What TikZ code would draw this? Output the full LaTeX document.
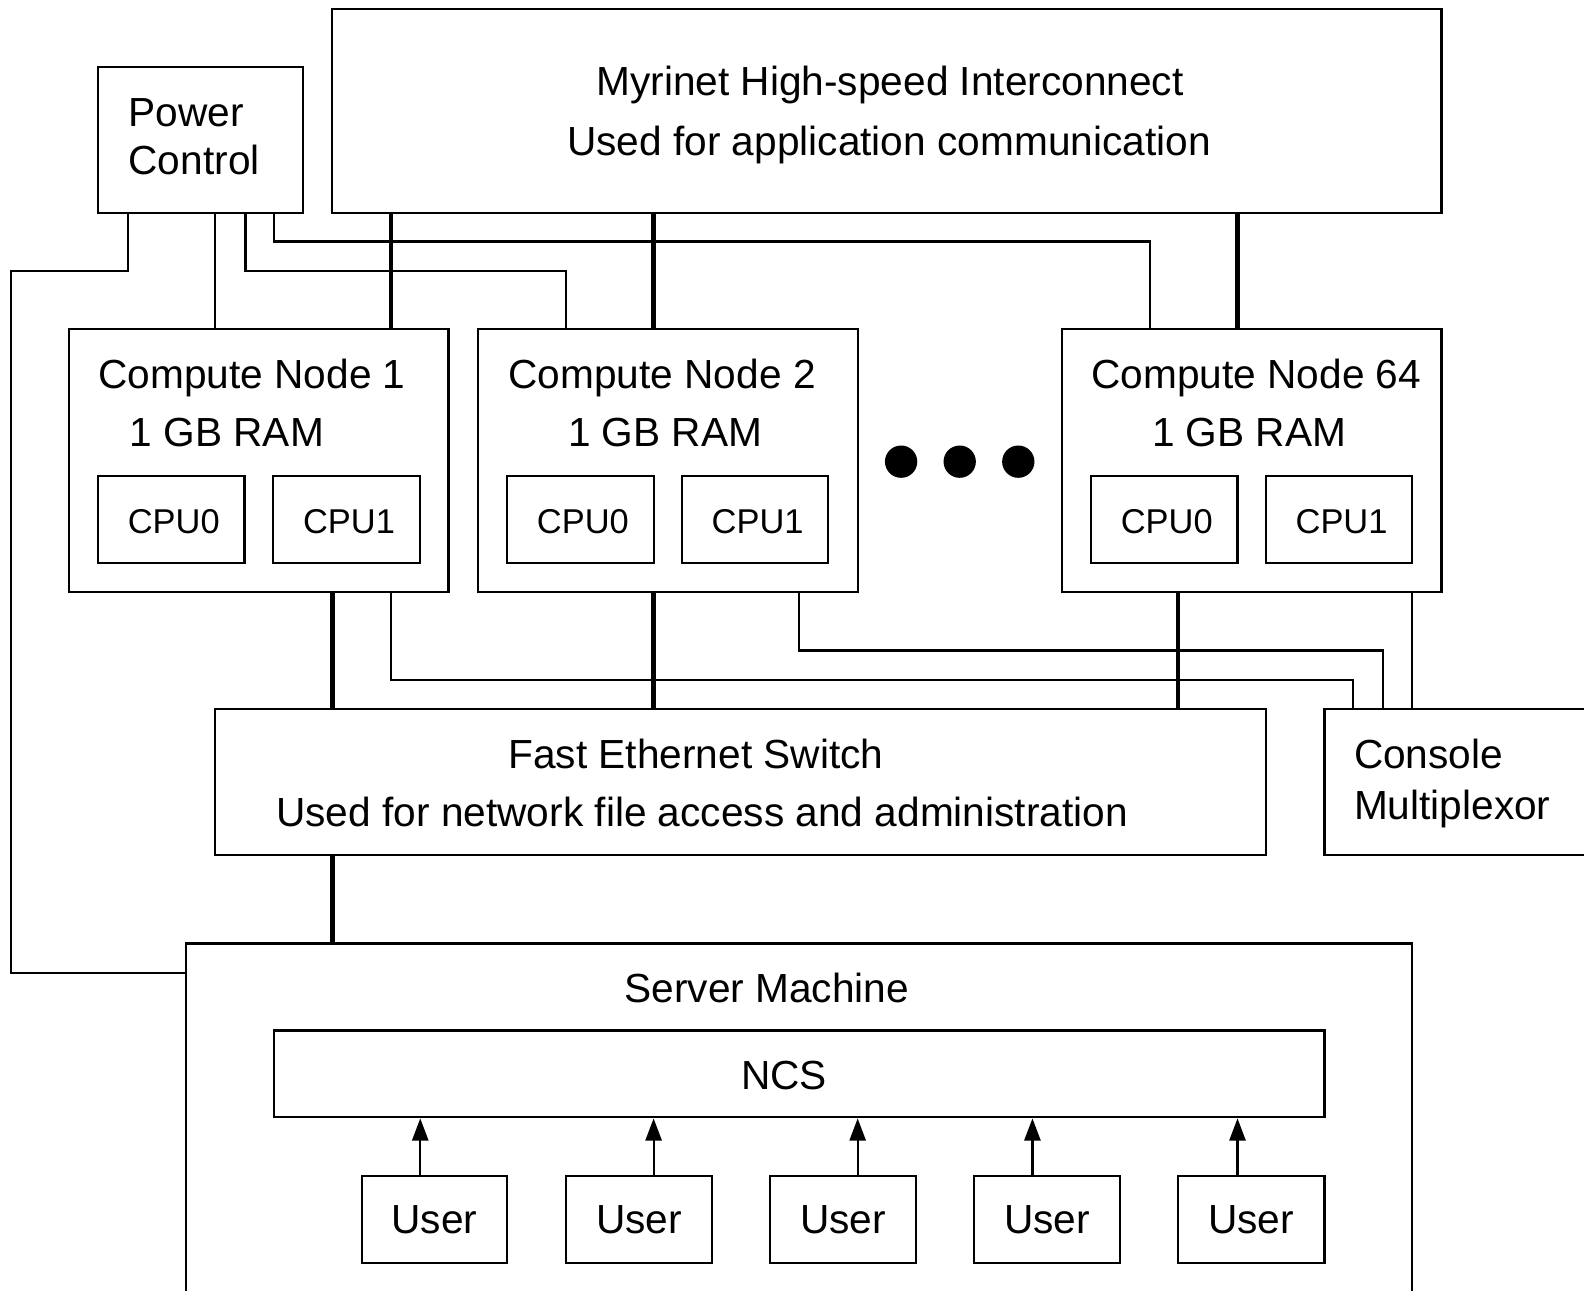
\documentclass[tikz,border=0pt]{standalone}
\usepackage{fontspec}
\setmainfont{Liberation Sans}
\usetikzlibrary{arrows.meta,fit}

\begin{document}
\begin{tikzpicture}[x=0.02cm,y=-0.02cm,
  box/.style={draw,line width=1.25pt,inner sep=0pt},
  wire/.style={line width=1.25pt},
  bus/.style={line width=2.6pt},
  arr/.style={line width=1.25pt,-{Triangle[length=0.44cm,width=0.32cm]}},
  lbl/.style={inner sep=0pt,font=\fontsize{22.9}{27}\selectfont},
  cpulbl/.style={inner sep=0pt,font=\fontsize{19.4}{23}\selectfont,xshift=0.05cm,yshift=-0.05cm},
  dot/.style={circle,fill,inner sep=0pt,minimum size=0.64cm}]
\useasboundingbox (0,0) rectangle (1568,1277);

% Myrinet interconnect and power controller
\node[box,fit={(329,9) (1427,211)}] (myri) {};
\node[lbl,anchor=base] (myriA) at (881,95) {Myrinet High-speed Interconnect};
\node[lbl,anchor=base] (myriB) at (880,154) {Used for application communication};

\node[box,fit={(97,66) (300,211)}] (pc) {};
\node[lbl,anchor=base west] (pcA) at (127,125) {Power};
\node[lbl,anchor=base west] (pcB) at (127,173) {Control};

% Compute nodes
\node[box,fit={(68,326) (444,586)}] (cn1) {};
\node[lbl,anchor=base west] (cn1A) at (97,385) {Compute Node 1};
\node[lbl,anchor=base west] (cn1B) at (128,442) {1 GB RAM};
\node[box,fit={(97,471) (242,557)}] (cn1c0) {};
\node[box,fit={(270,471) (416,557)}] (cn1c1) {};
\node[cpulbl] at (cn1c0) {CPU0};
\node[cpulbl] at (cn1c1) {CPU1};

\node[box,fit={(473,326) (849,586)}] (cn2) {};
\node[lbl,anchor=base west] (cn2A) at (503,385) {Compute Node 2};
\node[lbl,anchor=base west] (cn2B) at (562,442) {1 GB RAM};
\node[box,fit={(502,471) (647,557)}] (cn2c0) {};
\node[box,fit={(675,471) (820,557)}] (cn2c1) {};
\node[cpulbl] at (cn2c0) {CPU0};
\node[cpulbl] at (cn2c1) {CPU1};

\node[box,fit={(1051,326) (1427,586)}] (cn64) {};
\node[lbl,anchor=base west] (cn64A) at (1080,385) {Compute Node 64};
\node[lbl,anchor=base west] (cn64B) at (1140,442) {1 GB RAM};
\node[box,fit={(1080,471) (1225,557)}] (cn64c0) {};
\node[box,fit={(1253,471) (1398,557)}] (cn64c1) {};
\node[cpulbl] at (cn64c0) {CPU0};
\node[cpulbl] at (cn64c1) {CPU1};

\node[dot] (d1) at (892,457) {};
\node[dot] (d2) at (950,457) {};
\node[dot] (d3) at (1008,457) {};

% Ethernet switch and console multiplexor
\node[box,fit={(213,702) (1253,846)}] (sw) {};
\node[lbl,anchor=base] (swA) at (689,761) {Fast Ethernet Switch};
\node[lbl,anchor=base] (swB) at (695,818) {Used for network file access and administration};

\node[box,fit={(1311,702) (1620,846)}] (cm) {};
\node[lbl,anchor=base west] (cmA) at (1340,761) {Console};
\node[lbl,anchor=base west] (cmB) at (1340,811) {Multiplexor};

% Server machine with NCS and users
\node[box,fit={(184,934) (1398,1320)}] (srv) {};
\node[lbl,anchor=base] (srvA) at (759,992) {Server Machine};
\node[box,fit={(271,1020) (1311,1106)}] (ncs) {};
\node[lbl,anchor=base] (ncsA) at (776,1078) {NCS};

\node[box,fit={(358,1164) (502,1250)}] (u1) {};
\node[box,fit={(560,1164) (705,1250)}] (u2) {};
\node[box,fit={(762,1164) (907,1250)}] (u3) {};
\node[box,fit={(964,1164) (1109,1250)}] (u4) {};
\node[box,fit={(1166,1164) (1311,1250)}] (u5) {};
\foreach \n in {u1,u2,u3,u4,u5}
  \node[lbl] at (\n) {User};

\draw[arr] (u1.north -| 416,0) -- (ncs.south -| 416,0);
\draw[arr] (u2.north -| 647,0) -- (ncs.south -| 647,0);
\draw[arr] (u3.north -| 849,0) -- (ncs.south -| 849,0);
\draw[arr] (u4.north -| 1022,0) -- (ncs.south -| 1022,0);
\draw[arr] (u5.north -| 1225,0) -- (ncs.south -| 1225,0);

% Myrinet links
\draw[bus] (myri.south -| 387,0) -- (cn1.north -| 387,0);
\draw[bus] (myri.south -| 647,0) -- (cn2.north -| 647,0);
\draw[bus] (myri.south -| 1225,0) -- (cn64.north -| 1225,0);

% Ethernet links
\draw[bus] (cn1.south -| 329,0) -- (sw.north -| 329,0);
\draw[bus] (cn2.south -| 647,0) -- (sw.north -| 647,0);
\draw[bus] (cn64.south -| 1166,0) -- (sw.north -| 1166,0);
\draw[bus] (sw.south -| 329,0) -- (srv.north -| 329,0);

% Power control lines
\draw[wire] (pc.south -| 127,0) |- (11,268) |- (srv.west |- 0,963);
\draw[wire] (pc.south -| 213,0) -- (cn1.north -| 213,0);
\draw[wire] (pc.south -| 243,0) |- (560,268) -- (cn2.north -| 560,0);
\draw[wire] (pc.south -| 271,0) |- (1138,239) -- (cn64.north -| 1138,0);

% Console lines
\draw[wire] (cn1.south -| 387,0) |- (1339,673) -- (cm.north -| 1339,0);
\draw[wire] (cn2.south -| 791,0) |- (1369,644) -- (cm.north -| 1369,0);
\draw[wire] (cn64.south -| 1398,0) -- (cm.north -| 1398,0);
\end{tikzpicture}
\end{document}
